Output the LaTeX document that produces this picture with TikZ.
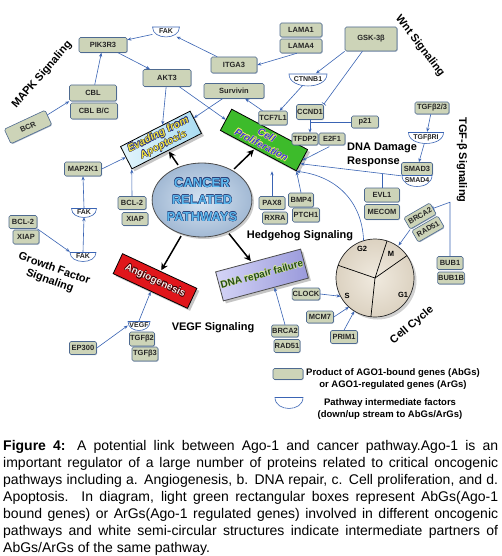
\documentclass[tikz,border=0pt]{standalone}
\usepackage{fontspec}
\setmainfont{Liberation Sans}
\usepackage[copies]{contour}
\contournumber{8}
\usetikzlibrary{shapes.geometric,arrows.meta,shadows,calc}
\definecolor{boxfill}{HTML}{CDD4B8}
\definecolor{boxedge}{HTML}{4E6A90}
\definecolor{arrblue}{HTML}{3A64B4}
\definecolor{evL}{HTML}{E4F5FC}
\definecolor{evR}{HTML}{A9DCF2}
\definecolor{evtext}{HTML}{F5E63C}
\definecolor{evline}{HTML}{29307A}
\definecolor{cpfill}{HTML}{3DBB2B}
\definecolor{cptext}{HTML}{3A3AD8}
\definecolor{cpline}{HTML}{E8E86A}
\definecolor{angfill}{HTML}{E0161B}
\definecolor{angtext}{HTML}{FFE4E4}
\definecolor{angline}{HTML}{3A0000}
\definecolor{dnaL}{HTML}{D4D4F6}
\definecolor{dnaR}{HTML}{9A9ADB}
\definecolor{dnatext}{HTML}{234A18}
\definecolor{dnaline}{HTML}{D8E8A0}
\definecolor{ellin}{HTML}{D6E4F2}
\definecolor{ellout}{HTML}{A2B9D4}
\definecolor{canctext}{HTML}{5DB9EE}
\definecolor{cancline}{HTML}{2A3F78}
\definecolor{ccin}{HTML}{F0EADF}
\definecolor{ccout}{HTML}{DCD2C1}
\tikzset{
  gene/.style={draw=boxedge, fill=boxfill, line width=0.6pt, rounded corners=1.5pt,
    inner sep=0.5pt, font=\fontsize{7.5}{8}\selectfont\bfseries, text=black!85,
    drop shadow={shadow xshift=0.7pt, shadow yshift=-0.7pt, fill=boxedge, opacity=0.5}},
  bowlline/.style={draw=arrblue, fill=white, line width=0.6pt},
  bowltext/.style={inner sep=0pt, font=\fontsize{7}{8}\selectfont\bfseries, text=black!85},
  arr/.style={draw=arrblue, line width=0.6pt, -{Stealth[length=4pt,width=3.2pt]}},
  inh/.style={draw=arrblue, line width=0.6pt, -{Bar[width=5pt]}},
  plainblue/.style={draw=arrblue, line width=0.6pt},
  big/.style={draw=black, line width=1.5pt, -{Stealth[length=7pt,width=7pt]}, shorten <=2pt, shorten >=1pt},
  sect/.style={font=\fontsize{11}{13}\selectfont\bfseries, text=black, inner sep=0pt},
  phase/.style={font=\fontsize{7.5}{8}\selectfont\bfseries, text=black, inner sep=0pt},
  legtext/.style={font=\fontsize{9.5}{12.5}\selectfont\bfseries, text=black, inner sep=0pt, align=center},
  mainbox/.style={draw=black, line width=0.8pt, inner sep=0pt, align=center,
    drop shadow={shadow xshift=2.5pt, shadow yshift=-2.5pt, fill=black!50, opacity=0.45}}
}
\newcommand\bowlnode[6]{%
  \path[bowlline] ({#2-#4/2},{#3-#5/2}) -- ({#2+#4/2},{#3-#5/2}) .. controls ({#2+#4/2},{#3+0.83*#5}) and ({#2-#4/2},{#3+0.83*#5}) .. cycle;
  \node[bowltext, minimum width=#4pt, minimum height=#5pt] (#1) at (#2,{#3-0.5}) {#6};}
\newcommand\capline[1]{\hbox to 495pt{#1}}
\begin{document}
\begin{tikzpicture}[x=1pt, y=-1pt]
\useasboundingbox (0,0) rectangle (501,556);
\fill[white] (0,0) rectangle (501,556);

% ---------- main process boxes ----------
\node[mainbox, rotate=27, minimum width=78pt, minimum height=25pt, left color=evL, right color=evR,
  font=\fontsize{10.5}{11.5}\selectfont\bfseries\itshape, text=evtext] (evading) at (161,140)
  {\contourlength{0.5pt}\contour{evline}{Evading from}\\\contour{evline}{Apoptosis}};
\node[mainbox, rotate=-28, minimum width=86pt, minimum height=24pt, fill=cpfill,
  font=\fontsize{10}{11}\selectfont\bfseries\itshape, text=cptext] (cellp) at (264,140)
  {\contourlength{0.35pt}\contour{cpline}{Cell}\\\contour{cpline}{Proliferation}};
\node[mainbox, rotate=-25, minimum width=82pt, minimum height=22pt, fill=angfill,
  font=\fontsize{10}{11}\selectfont\bfseries, text=angtext] (angio) at (155,281)
  {\contourlength{0.5pt}\contour{angline}{Angiogenesis}};
\node[mainbox, draw=black!70, rotate=15, minimum width=88pt, minimum height=30pt, left color=dnaL, right color=dnaR,
  font=\fontsize{10}{11}\selectfont\bfseries, text=dnatext] (dna) at (262,275)
  {\contourlength{0.3pt}\contour{dnaline}{DNA repair failure}};
\node[ellipse, draw=black!70, line width=0.8pt, minimum width=98pt, minimum height=74pt, inner sep=0pt,
  inner color=ellin, outer color=ellout, align=center,
  drop shadow={shadow xshift=2pt, shadow yshift=-2pt, fill=black!50, opacity=0.4},
  font=\fontsize{13}{17}\selectfont\bfseries, text=canctext] (canc) at (202,200)
  {\contourlength{0.6pt}\contour{cancline}{CANCER}\\\contour{cancline}{RELATED}\\\contour{cancline}{PATHWAYS}};

% ---------- cell cycle ----------
\node[circle, draw=black!85, line width=0.7pt, minimum size=78pt, inner sep=0pt, outer sep=0pt,
  inner color=ccin, outer color=ccout,
  drop shadow={shadow xshift=2.5pt, shadow yshift=-2.5pt, fill=black!40, opacity=0.45}] (cc) at (375,278) {};
\draw[black, line width=0.7pt] (cc.center) -- (cc.72);
\draw[black, line width=0.7pt] (cc.center) -- (cc.161);
\draw[black, line width=0.7pt] (cc.center) -- (cc.264);
\draw[black, line width=0.7pt] (cc.center) -- (cc.35);
\node[phase] (g2) at (362,249) {G2};
\node[phase] (m) at (391,254) {M};
\node[phase] (g1) at (403,295) {G1};
\node[phase] (s) at (347,296) {S};

% ---------- gene product boxes ----------
\node[gene, minimum width=48pt, minimum height=15pt] (pik3r3) at (103,45) {PIK3R3};
\node[gene, minimum width=46pt, minimum height=16pt] (itga3) at (234,65) {ITGA3};
\node[gene, minimum width=48pt, minimum height=17pt] (akt3) at (167,78) {AKT3};
\node[gene, minimum width=60pt, minimum height=15pt] (survivin) at (234,91) {Survivin};
\node[gene, minimum width=47pt, minimum height=16pt] (cbl) at (93,93) {CBL};
\node[gene, minimum width=47pt, minimum height=16pt] (cblbc) at (94,111) {CBL B/C};
\node[gene, rotate=25, minimum width=45pt, minimum height=16pt] (bcr) at (28,127) {BCR};
\node[gene, minimum width=42pt, minimum height=14pt] (lama1) at (301,30) {LAMA1};
\node[gene, minimum width=42pt, minimum height=14pt] (lama4) at (301,46) {LAMA4};
\node[gene, minimum width=52pt, minimum height=24pt] (gsk) at (371,39) {GSK-3β};
\node[gene, minimum width=27pt, minimum height=15pt] (ccnd1) at (310,112) {CCND1};
\node[gene, minimum width=28pt, minimum height=14pt] (tcf7l1) at (273,118) {TCF7L1};
\node[gene, minimum width=27pt, minimum height=12pt] (p21) at (365,122) {p21};
\node[gene, minimum width=34pt, minimum height=12pt] (tgfb23) at (432,108) {TGFβ2/3};
\node[gene, minimum width=26pt, minimum height=12pt] (tfdp2) at (305,139) {TFDP2};
\node[gene, minimum width=26pt, minimum height=12pt] (e2f1) at (332,139) {E2F1};
\node[gene, minimum width=31pt, minimum height=13pt] (smad3) at (417,169) {SMAD3};
\node[gene, minimum width=35pt, minimum height=14pt] (evl1) at (382,195) {EVL1};
\node[gene, minimum width=35pt, minimum height=15pt] (mecom) at (382,212) {MECOM};
\node[gene, rotate=30, minimum width=30pt, minimum height=13pt] (brca2r) at (420,216) {BRCA2};
\node[gene, rotate=30, minimum width=30pt, minimum height=13pt] (rad51r) at (428,229) {RAD51};
\node[gene, minimum width=26pt, minimum height=13pt] (bub1) at (450,263) {BUB1};
\node[gene, minimum width=26pt, minimum height=12pt] (bub1b) at (451,278) {BUB1B};
\node[gene, minimum width=26pt, minimum height=13pt] (pax8) at (272,203) {PAX8};
\node[gene, minimum width=25pt, minimum height=12pt] (rxra) at (275,218) {RXRA};
\node[gene, minimum width=25pt, minimum height=14pt] (bmp4) at (301,200) {BMP4};
\node[gene, minimum width=27pt, minimum height=14pt] (ptch1) at (306,215) {PTCH1};
\node[gene, minimum width=37pt, minimum height=14pt] (map2k1) at (83,169) {MAP2K1};
\node[gene, minimum width=28pt, minimum height=13pt] (bcl2m) at (132,203) {BCL-2};
\node[gene, minimum width=26pt, minimum height=13pt] (xiapm) at (135,219) {XIAP};
\node[gene, minimum width=28pt, minimum height=13pt] (bcl2l) at (23,222) {BCL-2};
\node[gene, minimum width=26pt, minimum height=14pt] (xiapl) at (26,237) {XIAP};
\node[gene, minimum width=25pt, minimum height=14pt] (tgfb2) at (142,339) {TGFβ2};
\node[gene, minimum width=26pt, minimum height=14pt] (tgfb3) at (145,354) {TGFβ3};
\node[gene, minimum width=27pt, minimum height=13pt] (ep300) at (83,348) {EP300};
\node[gene, minimum width=27pt, minimum height=12pt] (clock) at (306,294) {CLOCK};
\node[gene, minimum width=27pt, minimum height=12pt] (mcm7) at (320,317) {MCM7};
\node[gene, minimum width=27pt, minimum height=13pt] (prim1) at (344,337) {PRIM1};
\node[gene, minimum width=26pt, minimum height=12pt] (brca2b) at (285,331) {BRCA2};
\node[gene, minimum width=26pt, minimum height=13pt] (rad51b) at (287,346) {RAD51};

% ---------- intermediate factors ----------
\bowlnode{fak1}{166}{32}{27}{10}{FAK}
\bowlnode{ctnnb1}{308}{80}{38}{12}{CTNNB1}
\bowlnode{tgfbri}{426}{138}{35}{11}{TGFβRI}
\bowlnode{smad4}{417}{181}{30}{11}{SMAD4}
\bowlnode{fak2}{84}{213}{25}{9}{FAK}
\bowlnode{fak3}{83}{257}{26}{9}{FAK}
\bowlnode{vegf}{139}{326}{22}{9}{VEGF}

% ---------- pathway labels ----------
\node[sect, rotate=49] (mapk) at (42,75) {MAPK Signaling};
\node[sect, rotate=-52.5] (wnt) at (420,46) {Wnt Signaling};
\node[sect, rotate=-90] (tgfsig) at (462,160) {TGF-β Signaling};
\node[sect, rotate=-20, align=center] (gfs) at (52,275) {Growth Factor\\Signaling};
\node[sect] (hedge) at (300,236) {Hedgehog Signaling};
\node[sect, anchor=west, align=left, font=\fontsize{11}{14}\selectfont\bfseries] (ddr) at (347,155) {DNA Damage\\Response};
\node[sect] (vegfs) at (213,328) {VEGF Signaling};
\node[sect, rotate=40] (ccl) at (412,325) {Cell Cycle};

% ---------- black main arrows ----------
\draw[big] (canc) -- (evading);
\draw[big] (canc) -- (cellp);
\draw[big] (canc) -- (angio);
\draw[big] (canc) -- (dna);

% ---------- blue connectors ----------
\draw[arr] (fak1) -- (pik3r3);
\draw[arr] (itga3) -- (fak1);
\draw[arr] (lama4.240) -- (itga3.east);
\draw[arr] (pik3r3) -- (akt3);
\draw[arr] (cbl) -- (pik3r3);
\draw[arr] (bcr) -- (cbl.south west);
\draw[arr] (akt3) -- (evading);
\draw[arr] (akt3) -- (cellp.west);
\draw[arr] (survivin) -- (evading);
\draw[arr] (gsk.south west) -- (ctnnb1);
\draw[inh] (gsk.235) -- (ccnd1.north east);
\draw[arr] (ctnnb1) -- (tcf7l1);
\draw[arr] (tcf7l1) -- (survivin);
\draw[arr] (ccnd1.south) -- (ccnd1.south |- tfdp2.north);
\draw[inh] (p21.west) -- (p21.west -| ccnd1.south);
\draw[arr, shorten <=3pt] (e2f1.south) -- (cellp.east);
\draw[arr] (tgfb23) -- (tgfbri);
\draw[arr] (tgfbri) -- (smad3);
\draw[arr] (smad3.south west) -- (cellp.-5);
\coordinate (evj) at ($(smad3.south west)!0.18!(cellp.-5)$);
\draw[plainblue] (evl1.north) -- (evl1.north |- evj);
\draw[arr] (cc.107) .. controls (362,200) and (335,176) .. (cellp.south east);
\draw[arr] (pax8.north) -- (pax8.north |- cellp.south east);
\draw[arr] (bmp4.north) -- (cellp.south east);
\draw[arr] (map2k1.east) -- (evading);
\draw[arr] (bcl2m.north) -- (evading.south west);
\draw[arr] (fak2.north) -- (map2k1.south);
\draw[arr] (fak3.north) -- (fak2.south);
\draw[arr] (bcl2l.south east) -- (fak3.north west);
\draw[arr] (ep300.east) -- (vegf.west);
\draw[arr] (vegf.north) -- (angio);
\draw[arr] (brca2b.north) -- ($(dna.south)!0.2!(dna.south east)$);
\draw[arr] (clock.east) -- (cc.208);
\draw[arr] (mcm7.east) -- (cc.228);
\draw[arr] (prim1.north) -- (cc.238);
\draw[arr, shorten >=1pt] (brca2r.south west) -- (cc);
\draw[inh] (bub1.north) -- ++(0,-54) -- (brca2r.east);

% ---------- legend ----------
\node[gene, minimum width=30pt, minimum height=11pt] (legbox) at (288,374) {};
\bowlnode{legbowl}{289}{403}{28}{11}{}
\node[legtext] (legt1) at (393,379) {Product of AGO1-bound genes (AbGs)\\or AGO1-regulated genes (ArGs)};
\node[legtext] (legt2) at (390,409) {Pathway intermediate factors\\(down/up stream to AbGs/ArGs)};

% ---------- caption ----------
\node[anchor=north west, inner sep=0pt, font=\fontsize{14}{17}\selectfont] (cap) at (3,440)
{\vbox{\hsize=495pt\baselineskip=17pt\lineskiplimit=-10pt
 \spaceskip=0.278em plus 1.5em minus 0.08em
 \capline{\textbf{Figure 4:} A potential link between Ago-1 and cancer pathway.Ago-1 is an}
 \capline{important regulator of a large number of proteins related to critical oncogenic}
 \capline{pathways including a. Angiogenesis, b. DNA repair, c. Cell proliferation, and d.}
 \capline{Apoptosis.\ \ In diagram, light green rectangular boxes represent AbGs(Ago-1}
 \capline{bound genes) or ArGs(Ago-1 regulated genes) involved in different oncogenic}
 \capline{pathways and white semi-circular structures indicate intermediate partners of}
 \hbox{AbGs/ArGs of the same pathway.}}};
\end{tikzpicture}
\end{document}
